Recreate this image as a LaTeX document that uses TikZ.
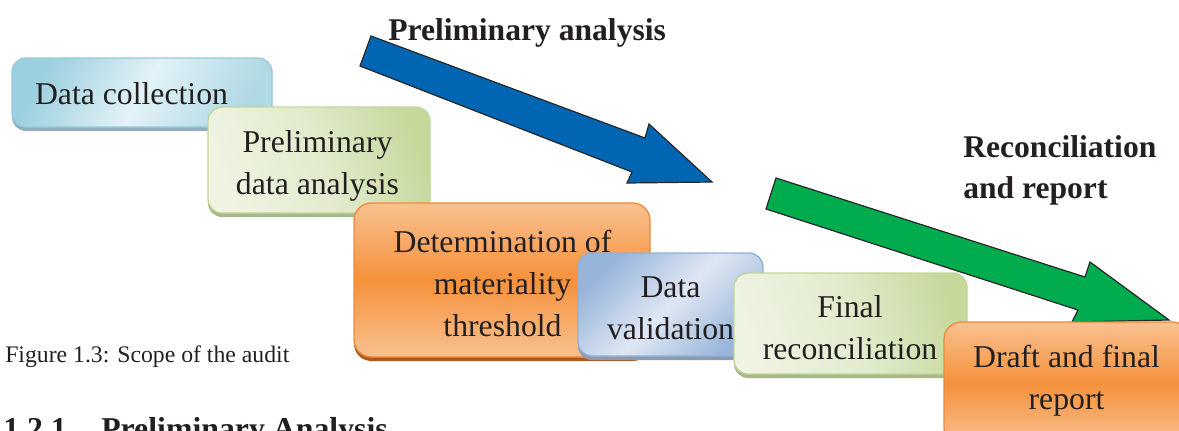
\documentclass[tikz,border=0pt]{standalone}
\usepackage{fontspec}
\setmainfont{Liberation Serif}
\usetikzlibrary{shadows}
\definecolor{bluedark}{HTML}{9CCFDF}
\definecolor{bluelight}{HTML}{E2F2F7}
\definecolor{blueedge}{HTML}{93CADB}
\definecolor{blueshadow}{HTML}{8FAFBC}
\definecolor{greendark}{HTML}{C6D99D}
\definecolor{greenlight}{HTML}{EEF3E2}
\definecolor{greenedge}{HTML}{C2D598}
\definecolor{greenshadow}{HTML}{A8B68A}
\definecolor{orangelight}{HTML}{F9C190}
\definecolor{orangedark}{HTML}{F5913B}
\definecolor{orangeedge}{HTML}{F08A34}
\definecolor{orangeshadow}{HTML}{B0581E}
\definecolor{vdark}{HTML}{97B4DA}
\definecolor{vlight}{HTML}{DFE7F3}
\definecolor{vedge}{HTML}{92B0D6}
\definecolor{vshadow}{HTML}{8C9CB0}
\definecolor{arrowblue}{HTML}{0066B3}
\definecolor{arrowgreen}{HTML}{00AC4E}
\definecolor{textcol}{HTML}{231F20}
\tikzset{
  boxbase/.style={rectangle, rounded corners=10.5pt, line width=1pt, inner sep=0pt},
  bluebox/.style={boxbase, draw=blueedge, left color=bluedark, right color=bluedark!80!white, middle color=bluelight, shading angle=60,
    drop shadow={shadow xshift=0pt, shadow yshift=-3pt, fill=blueshadow, opacity=1}},
  greenbox/.style={boxbase, draw=greenedge, left color=greenlight, right color=greendark, middle color=greenlight!70!greendark, shading angle=110,
    drop shadow={shadow xshift=0pt, shadow yshift=-3pt, fill=greenshadow, opacity=1}},
  orangebox/.style={boxbase, rounded corners=13pt, draw=orangeedge, top color=orangelight, bottom color=orangelight, middle color=orangedark,
    drop shadow={shadow xshift=0pt, shadow yshift=-3pt, fill=orangeshadow, opacity=1}},
  valbox/.style={boxbase, draw=vedge, left color=vdark, right color=vdark, middle color=vlight, shading angle=45,
    drop shadow={shadow xshift=0pt, shadow yshift=-3pt, fill=vshadow, opacity=1}},
  boxtext/.style={anchor=north, align=center, inner sep=0pt, text=textcol,
    font=\fontsize{23.8pt}{31.5pt}\selectfont},
  headtext/.style={inner sep=0pt, text=textcol, font=\fontsize{23.7pt}{31pt}\selectfont\bfseries},
  bigarrow/.style={draw=black!85, line width=0.9pt, line join=miter},
}
\begin{document}
\begin{tikzpicture}[x=0.75pt, y=-0.75pt]
\useasboundingbox (0,0) rectangle (1179,430);
\clip (0,0) rectangle (1179,430);

% arrows
\draw[bigarrow, fill=arrowblue] (371,36) -- (645,138) -- (649,124) -- (712,182) -- (627,183) -- (632,172) -- (360,66) -- cycle;
\draw[bigarrow, fill=arrowgreen] (776,178) -- (1085,277) -- (1090,262) -- (1169,320) -- (1072,322) -- (1078,310) -- (766,209) -- cycle;

% boxes
\node[bluebox, minimum width=195pt, minimum height=51.75pt] (b1) at (142,92.5) {};
\node[boxtext] (t1) at (131.5,82) {Data collection};

\node[greenbox, minimum width=166.5pt, minimum height=79.5pt] (b2) at (319,160) {};
\node[boxtext] (t2) at (317.5,130) {Preliminary\\data analysis};

\node[orangebox, minimum width=222pt, minimum height=115.5pt] (b3) at (502,280) {};
\node[boxtext] (t3) at (502.5,229.5) {Determination of\\materiality\\threshold};

\node[valbox, minimum width=138.75pt, minimum height=77.25pt] (b4) at (670.5,304.5) {};
\node[boxtext] (t4) at (670.5,276) {Data\\validation};

\node[greenbox, minimum width=174.75pt, minimum height=75.75pt] (b5) at (850.5,323.5) {};
\node[boxtext] (t5) at (850,295) {Final\\reconciliation};

\node[orangebox, minimum width=184.5pt, minimum height=92.25pt] (b6) at (1067,383.5) {};
\node[boxtext] (t6) at (1066.5,345) {Draft and final\\report};

% labels
\node[headtext, anchor=base west] (l1) at (388,40) {Preliminary analysis};
\node[headtext, anchor=north west, align=left] (l2) at (963,135) {Reconciliation\\and report};

\node[inner sep=0pt, anchor=base west, text=textcol, font=\fontsize{17.8pt}{20pt}\selectfont] (cap) at (5,362) {Figure 1.3: Scope of the audit};
\node[headtext, anchor=base west, font=\fontsize{23.85pt}{28pt}\selectfont\bfseries] (h1) at (3,439.5) {1.2.1};
\node[headtext, anchor=base west, font=\fontsize{23.85pt}{28pt}\selectfont\bfseries] (h2) at (101,439.5) {Preliminary Analysis};
\end{tikzpicture}
\end{document}
